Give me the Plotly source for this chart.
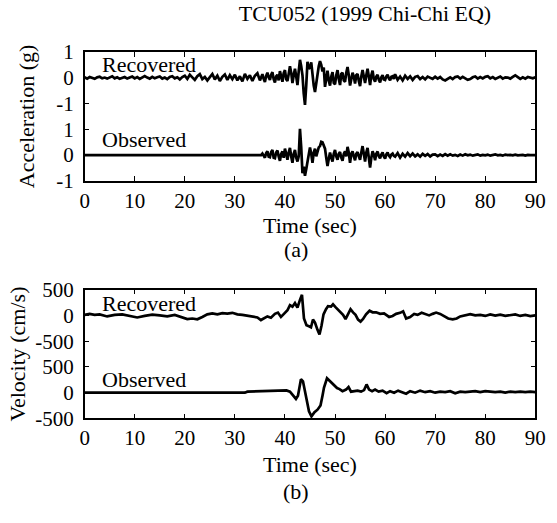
import numpy as np
import plotly.graph_objects as go

W, H = 557, 523
FONT = "Liberation Serif, Times New Roman, DejaVu Serif, serif"

# ---------------- acceleration records (g) ----------------
# 0.5 s steps in the quiet parts, 0.25 s steps through the strong shaking
acc_time = np.concatenate([np.arange(0, 35, 0.5),
                           np.arange(35, 62, 0.25),
                           np.arange(62, 90.01, 0.5)])

acc_recovered = [
    # 0 - 34.5 s
    0.02, -0.03, 0.03, 0.00, -0.04, 0.02, 0.04, -0.02, 0.01, -0.03,
    0.03, 0.06, -0.02, 0.02, -0.04, 0.01, 0.03, -0.03, 0.02, 0.05,
    -0.02, 0.03, -0.04, 0.02, 0.07, 0.01, -0.03, 0.04, -0.02, 0.02,
    0.05, -0.03, 0.01, -0.05, 0.03, 0.06, -0.02, 0.02, -0.06, 0.03,
    0.08, -0.04, 0.12, 0.02, -0.08, 0.06, 0.14, -0.05, 0.03, -0.10,
    0.05, 0.15, -0.06, 0.08, -0.12, 0.04, 0.13, -0.08, 0.10, -0.05,
    0.12, -0.10, 0.06, -0.14, 0.15, -0.04, 0.10, -0.12, 0.08, 0.18,
    # 35 - 61.75 s
    -0.10, 0.05, 0.14, -0.04, -0.16, 0.08, 0.20, 0.02,
    -0.08, 0.12, 0.22, -0.05, -0.18, 0.06, 0.12, -0.10,
    0.26, 0.05, -0.15, 0.18, 0.30, -0.05, -0.12, 0.15,
    0.45, 0.20, -0.20, 0.10, 0.35, 0.05, -0.28, 0.25,
    0.70, 0.45, 0.10, -0.60, -1.05, -0.30, 0.62, 0.35,
    0.40, 0.60, 0.05, -0.30, -0.55, -0.20, 0.30, 0.45,
    0.65, 0.50, 0.25, 0.40, -0.35, -0.05, 0.28, -0.10,
    -0.30, 0.05, 0.22, -0.20, -0.25, 0.10, 0.30, -0.05,
    -0.28, 0.15, 0.20, -0.10, -0.15, 0.20, 0.42, 0.10,
    -0.30, -0.05, 0.20, 0.05, -0.22, 0.10, 0.15, -0.12,
    -0.32, 0.05, 0.30, 0.05, -0.20, 0.10, 0.35, 0.05,
    -0.28, 0.10, 0.28, -0.05, -0.15, 0.05, 0.12, -0.08,
    -0.18, 0.02, 0.10, -0.06, -0.08, 0.06, 0.12, -0.02,
    -0.10, 0.04, 0.06, -0.04,
    # 62 - 90 s
    0.14, -0.08, 0.05, -0.10, 0.08, -0.04,
    0.06, -0.08, 0.04, 0.07, -0.05, 0.03, -0.06, 0.05, 0.02, -0.04,
    0.04, -0.03, 0.03, -0.06, -0.10, -0.04, 0.02, -0.05, 0.03, 0.05,
    -0.03, 0.04, -0.02, -0.08, -0.05, 0.02, 0.05, -0.03, 0.03, -0.02,
    0.04, 0.06, -0.02, 0.03, -0.04, 0.02, 0.05, -0.03, 0.02, 0.01,
    -0.03, 0.04, 0.10, 0.03, -0.04, 0.02, -0.03, 0.03, 0.01, -0.02,
    0.02,
]

acc_observed = [0.0] * 70 + [
    # 35 - 61.75 s
    0.00, 0.00, 0.06, -0.05, -0.10, 0.08, 0.15, -0.06,
    -0.08, 0.12, 0.20, -0.10, -0.12, 0.10, 0.18, -0.05,
    -0.22, 0.05, 0.14, -0.10, 0.25, 0.05, -0.18, 0.10,
    0.28, -0.05, -0.30, 0.05, 0.20, -0.10, -0.25, -0.05,
    1.02, 0.30, -0.70, -0.45, -0.80, -0.55, -0.20, 0.05,
    0.30, 0.05, -0.30, 0.10, 0.25, -0.05, 0.10, 0.30,
    0.35, 0.52, 0.50, 0.40, 0.25, -0.10, -0.42, -0.15,
    0.10, -0.10, -0.25, 0.05, 0.20, -0.05, -0.18, 0.05,
    0.12, -0.10, -0.22, 0.05, 0.15, -0.05, 0.32, 0.10,
    -0.30, 0.05, 0.15, -0.05, -0.20, 0.05, 0.12, -0.05,
    -0.18, 0.10, 0.35, 0.05, -0.25, 0.10, 0.28, -0.10,
    -0.48, -0.10, 0.15, 0.02, -0.20, 0.05, 0.14, -0.04,
    -0.12, 0.02, 0.10, -0.05, -0.14, 0.03, 0.10, -0.02,
    -0.08, 0.02, 0.06, -0.03,
    # 62 - 90 s
    -0.06, 0.08, -0.10, 0.05, -0.06, 0.08,
    -0.04, 0.06, -0.05, 0.03, -0.06, 0.05, -0.03, 0.04, -0.05, 0.02,
    0.03, -0.04, 0.02, -0.03, 0.04, -0.02, 0.03, -0.02, 0.01, -0.03,
    0.02, -0.02, 0.03, -0.01, 0.02, -0.02, 0.01, 0.03, -0.02, 0.01,
    -0.01, 0.02, -0.02, 0.01, 0.03, -0.01, 0.01, -0.02, 0.02, 0.00,
    0.01, -0.01, 0.02, -0.01, 0.00, 0.01, -0.02, 0.01, 0.00, 0.01,
    0.00,
]

# ---------------- velocity records (cm/s) ----------------
vel_rec_time = [
    0, 1, 2, 3, 4.5, 6, 7.5, 9, 10.5, 12, 13.5, 15, 16.5, 18, 19.5, 20.5,
    21.5, 22.5, 23.5, 24.5, 25.5, 26.5, 27.5, 28.5, 29.5, 30.5, 31.5, 32.5,
    33.5, 34.5, 35.2, 35.8, 36.5, 37.2, 38, 38.6, 39.2, 39.8, 40.5, 41, 41.5,
    42, 42.5, 43, 43.4, 43.8, 44.3, 44.8, 45.2, 45.6, 46.0, 46.5, 46.9, 47.3,
    47.7, 48.2, 48.6, 49.2, 49.6, 50.1, 50.6, 51.1, 51.6, 52.1, 52.6, 53.1,
    53.6, 54.1, 54.6, 55.1, 55.6, 56.2, 56.9, 57.5, 58.2, 59, 59.8, 60.8,
    61.5, 62.2, 63, 63.6, 64.2, 65, 65.8, 66.5, 67.3, 68, 68.8, 69.5, 70.2,
    71, 71.8, 72.6, 73.5, 74.3, 75, 76, 77, 78, 79, 80, 81, 82, 83, 84, 85,
    86, 87, 88, 89, 90,
]
vel_recovered = [
    10, 30, 10, 20, -20, 10, 20, -15, -40, -10, 15, 0, -20, 10, -30, -70,
    -60, -75, -30, 20, 40, 20, 45, 35, 50, 20, 10, -10,
    -20, -40, -90, -60, -20, -45, 30, 55, -30, 30, 100, 200, 170,
    240, 150, 300, 400, -60, -190, -210, -230, -80, -140, -280, -370, -200,
    20, 120, 180, 170, 215, 160, 110, 60, 10, -70, 30, 120,
    60, 10, -80, -120, -70, 20, 90, 60, 60, 30, 40, -30,
    -10, 30, 50, 80, -60, -30, 30, 10, 50, 20, 0, 30, 55,
    30, -20, -60, -75, -60, -20, 10, 25, 0, 10, -10, 20, -5, 15, -10, 0,
    20, -10, 10, -15, 0,
]

vel_obs_time = [
    0, 32, 32.5, 34, 35.5, 37, 38.5, 39.5, 40.3, 41, 41.6, 42.2, 42.6, 43.2,
    43.6, 44.2, 44.8, 45.3, 45.9, 46.5, 47.1, 47.5, 47.8, 48.4, 49.1, 49.8,
    50.4, 50.9, 51.5, 52.2, 52.7, 53.2, 53.8, 54.5, 55.2, 55.8, 56.3, 56.8,
    57.4, 58, 58.7, 59.5, 60.3, 61, 61.8, 62.6, 63.4, 64.2, 65, 66, 67, 68,
    69, 70, 71, 72, 73, 74, 75, 76, 77, 78, 79, 80, 81, 82, 83, 84, 85, 86,
    87, 88, 89, 90,
]
vel_observed = [
    0, 0, 20, 25, 30, 35, 40, 30, 45, 20, -40, -120, -60, 260,
    220, -80, -360, -460, -380, -330, -250, -60, 100, 280, 210, 140,
    90, 70, 30, 60, 110, 20, 30, 40, 20, 50, 160, 60,
    30, 60, 20, 40, -10, 30, 0, 40, 10, -20, 30, 0, 40, 10,
    30, 0, 20, 10, 30, -10, 20, 10, 20, 30, 10, 30, 20, 10, 20, 0, 20, 10,
    20, 10, 20, 10,
]

# the two records of each panel are stacked: the upper one is lifted by an offset
ACC_OFFSET = 3.0
VEL_OFFSET = 1500.0
acc_ticks = [-1, 0, 1, 2, 3, 4]
acc_ticktext = ["-1", "0", "1", "-1", "0", "1"]
vel_ticks = [-500, 0, 500, 1000, 1500, 2000]
vel_ticktext = ["-500", "0", "500", "-500", "0", "500"]
time_ticks = list(range(0, 91, 10))


def px_x(p):
    return p / W


def px_y(p):
    return 1 - p / H


line = dict(color="black", width=2.7)
fig = go.Figure()
fig.add_trace(go.Scatter(x=acc_time, y=np.array(acc_recovered) + ACC_OFFSET,
                         mode="lines", line=line, xaxis="x", yaxis="y"))
fig.add_trace(go.Scatter(x=acc_time, y=acc_observed,
                         mode="lines", line=line, xaxis="x", yaxis="y"))
fig.add_trace(go.Scatter(x=vel_rec_time, y=np.array(vel_recovered) + VEL_OFFSET,
                         mode="lines", line=line, xaxis="x2", yaxis="y2"))
fig.add_trace(go.Scatter(x=vel_obs_time, y=vel_observed,
                         mode="lines", line=line, xaxis="x2", yaxis="y2"))

tickfont = dict(family=FONT, size=21, color="black")
titlefont = dict(family=FONT, size=22, color="black")
common = dict(showline=True, linecolor="black", linewidth=1.5, mirror="ticks",
              ticks="inside", ticklen=5, tickwidth=1, tickcolor="black",
              showgrid=False, zeroline=False, tickfont=tickfont)

xdom = [px_x(82), px_x(546)]
fig.update_layout(
    width=W, height=H, margin=dict(l=0, r=0, t=0, b=0),
    paper_bgcolor="white", plot_bgcolor="white", showlegend=False,
    title=dict(text="TCU052 (1999 Chi-Chi EQ)", font=titlefont,
               x=px_x(365), xanchor="center", y=px_y(13), yanchor="middle"),
    xaxis=dict(domain=xdom, range=[0, 90], tickvals=time_ticks, anchor="y",
               title=dict(text="Time (sec)", font=titlefont, standoff=0),
               ticklabelstandoff=0, **common),
    yaxis=dict(domain=[px_y(177), px_y(42)], range=[-1, 4], tickvals=acc_ticks,
               ticktext=acc_ticktext, anchor="x",
               title=dict(text="Acceleration (g)", font=titlefont, standoff=15),
               ticklabelstandoff=5, **common),
    xaxis2=dict(domain=xdom, range=[0, 90], tickvals=time_ticks, anchor="y2",
                title=dict(text="Time (sec)", font=titlefont, standoff=7),
                ticklabelstandoff=0, **common),
    yaxis2=dict(domain=[px_y(426), px_y(291)], range=[-500, 2000], tickvals=vel_ticks,
                ticktext=vel_ticktext, anchor="x2",
                title=dict(text="Velocity (cm/s)", font=titlefont, standoff=3),
                ticklabelstandoff=5, **common),
)

labels = [
    ("Recovered", "x", "y", 3.0, ACC_OFFSET + 0.5),
    ("Observed", "x", "y", 3.0, 0.6),
    ("Recovered", "x2", "y2", 3.0, VEL_OFFSET + 230),
    ("Observed", "x2", "y2", 3.0, 265),
]
for text, xr, yr, xv, yv in labels:
    fig.add_annotation(text=text, x=xv, y=yv, xref=xr, yref=yr, xanchor="left",
                       yanchor="middle", showarrow=False, font=titlefont)

for text, yp in [("(a)", 249), ("(b)", 503)]:
    fig.add_annotation(text=text, x=px_x(300), y=px_y(yp), xref="paper", yref="paper",
                       xanchor="center", yanchor="middle", showarrow=False, font=titlefont)

fig.write_html("out.html")
